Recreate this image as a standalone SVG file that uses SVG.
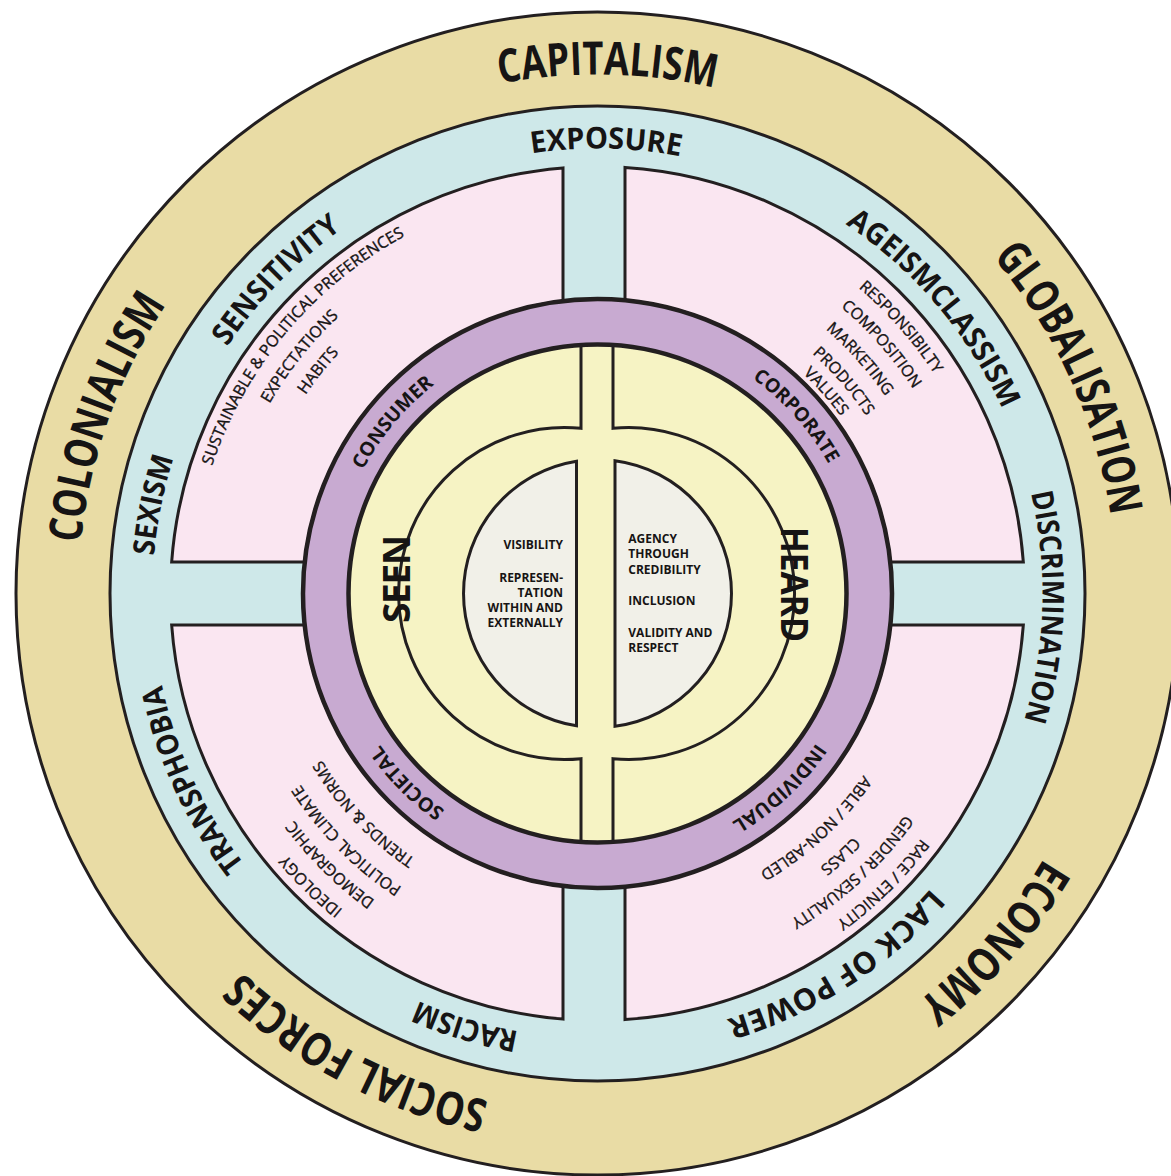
<svg xmlns="http://www.w3.org/2000/svg" width="1171" height="1176" viewBox="0 0 1171 1176">
  <defs>
    <style>
      .ln{stroke:#231f20;stroke-width:3;}
      .lnb{stroke:#231f20;stroke-width:4.5;}
      .tan{fill:#e9dca5}
      .blue{fill:#cee8e9}
      .pink{fill:#fae6f1}
      .purple{fill:#c8aad1}
      .yellow{fill:#f6f3c4}
      .grey{fill:#f1f0e8}
      text{fill:#161414;font-family:"Open Sans","Liberation Sans",sans-serif}
      .lbl{font-weight:700}
      .big{font-size:46px}
      .mid{font-size:30px}
      .sm{font-size:19.5px}
      .pk{font-weight:400;font-size:16px;stroke:#161414;stroke-width:0.35}
      .ctr{font-weight:700;font-size:12px}
      .core{font-weight:700;font-size:37px}
    </style>
    <!-- circular baselines: start at the bottom, run clockwise, 50% lands at the top -->
    <path id="r519" d="M0,519A519,519 0 0 1 0,-519A519,519 0 0 1 0,519"/>
    <path id="r445" d="M0,445A445,445 0 0 1 0,-445A445,445 0 0 1 0,445"/>
    <path id="r265" d="M0,265A265,265 0 0 1 0,-265A265,265 0 0 1 0,265"/>
    <path id="r406" d="M0,406A406,406 0 0 1 0,-406A406,406 0 0 1 0,406"/>
    <path id="r402" d="M0,402A402,402 0 0 1 0,-402A402,402 0 0 1 0,402"/>
    <path id="r379" d="M0,379A379,379 0 0 1 0,-379A379,379 0 0 1 0,379"/>
    <path id="r376" d="M0,376A376,376 0 0 1 0,-376A376,376 0 0 1 0,376"/>
    <path id="r353" d="M0,353A353,353 0 0 1 0,-353A353,353 0 0 1 0,353"/>
    <path id="r349" d="M0,349A349,349 0 0 1 0,-349A349,349 0 0 1 0,349"/>
    <path id="r322" d="M0,322A322,322 0 0 1 0,-322A322,322 0 0 1 0,322"/>
    <path id="r301" d="M0,301A301,301 0 0 1 0,-301A301,301 0 0 1 0,301"/>
  </defs>

  <rect width="1171" height="1176" fill="#ffffff"/>

  <g transform="translate(597.5,593.5)">
    <!-- outer ring: forces -->
    <g id="ring-forces">
      <circle r="581.5" class="tan ln"/>
      <text class="lbl big" text-anchor="middle" transform="rotate(1.1)"><textPath href="#r519" startOffset="50%" textLength="216" lengthAdjust="spacingAndGlyphs">CAPITALISM</textPath></text>
      <text class="lbl big" text-anchor="middle" transform="rotate(65.5)"><textPath href="#r519" startOffset="50%" textLength="288" lengthAdjust="spacingAndGlyphs">GLOBALISATION</textPath></text>
      <text class="lbl big" text-anchor="middle" transform="rotate(131.3)"><textPath href="#r519" startOffset="50%" textLength="193" lengthAdjust="spacingAndGlyphs">ECONOMY</textPath></text>
      <text class="lbl big" text-anchor="middle" transform="rotate(207.65)"><textPath href="#r519" startOffset="50%" textLength="282" lengthAdjust="spacingAndGlyphs">SOCIAL FORCES</textPath></text>
      <text class="lbl big" text-anchor="middle" transform="rotate(-70.3)"><textPath href="#r519" startOffset="50%" textLength="256" lengthAdjust="spacingAndGlyphs">COLONIALISM</textPath></text>
    </g>

    <!-- second ring: barriers -->
    <g id="ring-barriers">
      <circle r="487.5" class="blue ln"/>
      <text class="lbl mid" text-anchor="middle" transform="rotate(1.1)"><textPath href="#r445" startOffset="50%" textLength="150" lengthAdjust="spacingAndGlyphs">EXPOSURE</textPath></text>
      <text class="lbl mid" text-anchor="middle" transform="rotate(-45.7)"><textPath href="#r445" startOffset="50%" textLength="165" lengthAdjust="spacingAndGlyphs">SENSITIVITY</textPath></text>
      <text class="lbl mid" text-anchor="middle" transform="rotate(49.7)"><textPath href="#r445" startOffset="50%" textLength="246" lengthAdjust="spacingAndGlyphs">AGEISMCLASSISM</textPath></text>
      <text class="lbl mid" text-anchor="middle" transform="rotate(91.75)"><textPath href="#r445" startOffset="50%" textLength="230" lengthAdjust="spacingAndGlyphs">DISCRIMINATION</textPath></text>
      <text class="lbl mid" text-anchor="middle" transform="rotate(147.3)"><textPath href="#r445" startOffset="50%" textLength="246" lengthAdjust="spacingAndGlyphs">LACK OF POWER</textPath></text>
      <text class="lbl mid" text-anchor="middle" transform="rotate(197)"><textPath href="#r445" startOffset="50%" textLength="106" lengthAdjust="spacingAndGlyphs">RACISM</textPath></text>
      <text class="lbl mid" text-anchor="middle" transform="rotate(245.3)"><textPath href="#r445" startOffset="50%" textLength="199" lengthAdjust="spacingAndGlyphs">TRANSPHOBIA</textPath></text>
      <text class="lbl mid" text-anchor="middle" transform="rotate(-78.7)"><textPath href="#r445" startOffset="50%" textLength="100" lengthAdjust="spacingAndGlyphs">SEXISM</textPath></text>
    </g>

    <!-- quadrants -->
    <g id="quadrant-consumer">
      <path class="pink ln" d="M-34.5,-425.6L-34.5,-292.47A294.5,294.5 0 0 0 -292.81,-31.5L-425.84,-31.5A427,427 0 0 1 -34.5,-425.6Z"/>
      <g class="pk" text-anchor="middle">
        <text transform="rotate(-50)"><textPath href="#r406" startOffset="50%">SUSTAINABLE &amp; POLITICAL PREFERENCES</textPath></text>
        <text transform="rotate(-51.5)"><textPath href="#r379" startOffset="50%">EXPECTATIONS</textPath></text>
        <text transform="rotate(-51.4)"><textPath href="#r353" startOffset="50%">HABITS</textPath></text>
      </g>
    </g>
    <g id="quadrant-corporate">
      <path class="pink ln" d="M27.5,-426.11A427,427 0 0 1 425.84,-31.5L292.81,-31.5A294.5,294.5 0 0 0 27.5,-293.21Z"/>
      <g class="pk" text-anchor="middle">
        <text transform="rotate(48.7)"><textPath href="#r402" startOffset="50%">RESPONSIBILTY</textPath></text>
        <text transform="rotate(48.7)"><textPath href="#r376" startOffset="50%">COMPOSITION</textPath></text>
        <text transform="rotate(48.2)"><textPath href="#r349" startOffset="50%">MARKETING</textPath></text>
        <text transform="rotate(49.2)"><textPath href="#r322" startOffset="50%">PRODUCTS</textPath></text>
        <text transform="rotate(48.5)"><textPath href="#r301" startOffset="50%">VALUES</textPath></text>
      </g>
    </g>
    <g id="quadrant-individual">
      <path class="pink ln" d="M27.5,426.11L27.5,293.21A294.5,294.5 0 0 0 292.81,31.5L425.84,31.5A427,427 0 0 1 27.5,426.11Z"/>
      <g class="pk" text-anchor="middle">
        <text transform="rotate(137.05)"><textPath href="#r322" startOffset="50%">ABLE / NON-ABLED</textPath></text>
        <text transform="rotate(137.25)"><textPath href="#r353" startOffset="50%">CLASS</textPath></text>
        <text transform="rotate(137.55)"><textPath href="#r379" startOffset="50%">GENDER / SEXUALITY</textPath></text>
        <text transform="rotate(135.55)"><textPath href="#r406" startOffset="50%">RACE / ETNICITY</textPath></text>
      </g>
    </g>
    <g id="quadrant-societal">
      <path class="pink ln" d="M-34.5,425.6A427,427 0 0 1 -425.84,31.5L-292.81,31.5A294.5,294.5 0 0 0 -34.5,292.47Z"/>
      <g class="pk" text-anchor="middle">
        <text transform="rotate(226.7)"><textPath href="#r322" startOffset="50%">TRENDS &amp; NORMS</textPath></text>
        <text transform="rotate(225.45)"><textPath href="#r353" startOffset="50%">POLITICAL CLIMATE</textPath></text>
        <text transform="rotate(224.6)"><textPath href="#r379" startOffset="50%">DEMOGRAPHIC</textPath></text>
        <text transform="rotate(224.4)"><textPath href="#r406" startOffset="50%">IDEOLOGY</textPath></text>
      </g>
    </g>

    <!-- third ring: context -->
    <g id="ring-context">
      <circle r="294.5" class="purple lnb"/>
      <text class="lbl sm" text-anchor="middle" transform="rotate(-50.1)"><textPath href="#r265" startOffset="50%" textLength="112" lengthAdjust="spacingAndGlyphs">CONSUMER</textPath></text>
      <text class="lbl sm" text-anchor="middle" transform="rotate(48.25)"><textPath href="#r265" startOffset="50%" textLength="116" lengthAdjust="spacingAndGlyphs">CORPORATE</textPath></text>
      <text class="lbl sm" text-anchor="middle" transform="rotate(137)"><textPath href="#r265" startOffset="50%" textLength="117" lengthAdjust="spacingAndGlyphs">INDIVIDUAL</textPath></text>
      <text class="lbl sm" text-anchor="middle" transform="rotate(225.15)"><textPath href="#r265" startOffset="50%" textLength="93" lengthAdjust="spacingAndGlyphs">SOCIETAL</textPath></text>
    </g>

    <!-- core -->
    <g id="core">
      <circle r="249" class="yellow lnb"/>
      <path class="ln" fill="none" d="M-16.5,-248.45L-16.5,-165.18A166,166 0 1 0 -16.5,165.18L-16.5,248.45"/>
      <path class="ln" fill="none" d="M15.5,-248.52L15.5,-165.27A166,166 0 1 1 15.5,165.27L15.5,248.52"/>
    </g>

    <g id="core-seen">
      <path class="grey ln" d="M-21,-132.34A134,134 0 0 0 -21,132.34Z"/>
      <text class="core" text-anchor="middle" transform="translate(-188,-14.5) rotate(-90)" textLength="88" lengthAdjust="spacing">SEEN</text>
      <g class="ctr" text-anchor="end">
        <text x="-34.5" y="-44.5">VISIBILITY</text>
        <text x="-34.5" y="-12">REPRESEN-</text>
        <text x="-34.5" y="3.3">TATION</text>
        <text x="-34.5" y="18.3">WITHIN AND</text>
        <text x="-34.5" y="33.5">EXTERNALLY</text>
      </g>
    </g>

    <g id="core-heard">
      <path class="grey ln" d="M17.5,-132.85A134,134 0 0 1 17.5,132.85Z"/>
      <text class="core" text-anchor="middle" transform="translate(183.5,-9) rotate(90)" textLength="115" lengthAdjust="spacingAndGlyphs">HEARD</text>
      <g class="ctr">
        <text x="30.8" y="-50.8">AGENCY</text>
        <text x="30.8" y="-35.6">THROUGH</text>
        <text x="30.8" y="-19.5">CREDIBILITY</text>
        <text x="30.8" y="11.5">INCLUSION</text>
        <text x="30.8" y="43.2">VALIDITY AND</text>
        <text x="30.8" y="58.2">RESPECT</text>
      </g>
    </g>
  </g>
</svg>
